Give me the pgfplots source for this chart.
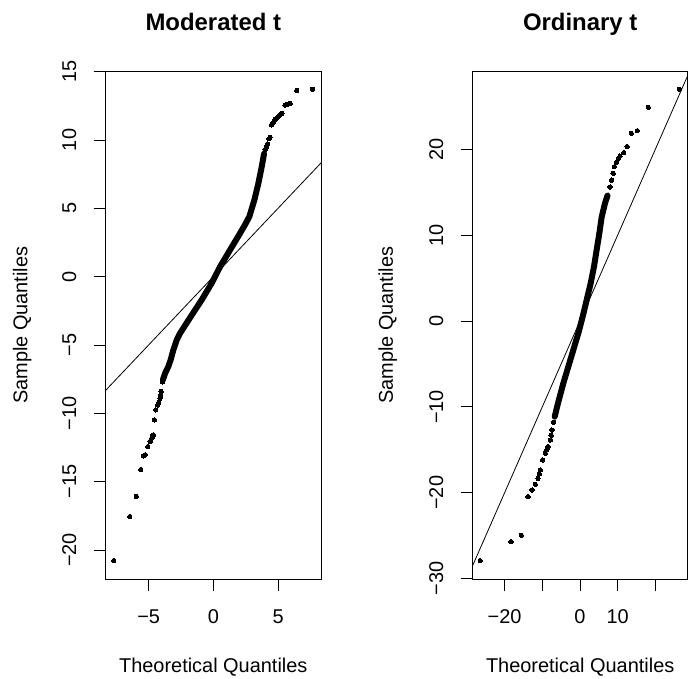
\documentclass[border=0pt]{standalone}
\usepackage{pgfplots}
\pgfplotsset{compat=1.18}
\usepackage{fontspec}
\setmainfont{Liberation Sans}
\begin{document}
\begin{tikzpicture}
\path[use as bounding box] (0bp,0bp) rectangle (689bp,679bp);
\pgfplotsset{rstyle/.style={scale only axis, height=508.3bp, anchor=south west,
  axis line style={line width=0.8bp}, tick style={line width=0.8bp, black},
  major tick length=12bp, tick align=outside, xtick pos=lower, ytick pos=left,
  ticklabel style={font=\fontsize{20}{24}\selectfont},
  xticklabel style={anchor=base, yshift=-32bp},
  yticklabel style={xshift=-17.5bp, rotate=90, anchor=base},
  clip=true},
  band/.style={line width=6bp, line cap=round, line join=round, no marks, black},
  dots/.style={only marks, mark=*, mark size=2.2bp, mark options={draw=black, fill=black, line width=0pt}},
  refline/.style={line width=0.8bp, no marks, black}}
% Left panel
\begin{axis}[rstyle, at={(105.7bp,99.7bp)}, width=215.3bp,
  xmin=-8.32, xmax=8.32, ymin=-22.15, ymax=15.05,
  xtick={-5,0,5}, xticklabels={−5,0,5},
  ytick={-20,-15,-10,-5,0,5,10,15}, yticklabels={−20,−15,−10,−5,0,5,10,15}]
\addplot[refline] coordinates {(-30,-30) (30,30)};
\addplot[band] coordinates {(-3.90,-7.56) (-3.73,-7.07) (-3.48,-6.58) (-3.30,-6.09) (-3.09,-5.36) (-2.83,-4.63) (-2.57,-4.14) (-1.75,-2.93) (-0.90,-1.70) (-0.13,-0.48) (0.52,0.73) (1.29,1.95) (2.06,3.17) (2.45,3.80) (2.78,4.39) (3.17,5.61) (3.48,6.83) (3.74,8.05) (3.92,9.0)};
\addplot[dots] coordinates {(4.0,9.3) (4.1,9.5) (4.2,9.7) (4.3,10.1) (4.38,10.2) (4.5,11.1) (4.6,11.25) (4.77,11.5) (4.9,11.6) (5.02,11.7) (5.15,11.85) (5.29,11.95) (5.54,12.56) (5.67,12.6) (5.93,12.68) (6.44,13.62) (7.66,13.71)
 (-3.94,-7.7) (-4.04,-8.41) (-4.08,-8.7) (-4.12,-8.90) (-4.22,-9.2) (-4.30,-9.39) (-4.45,-9.75) (-4.56,-10.48) (-4.64,-11.58) (-4.70,-11.7) (-4.76,-11.82) (-4.89,-12.07) (-5.07,-12.44) (-5.28,-13.04) (-5.41,-13.12) (-5.61,-14.12) (-5.95,-16.09) (-6.46,-17.56) (-7.70,-20.78)};
\end{axis}
% Right panel
\begin{axis}[rstyle, at={(472.7bp,99.7bp)}, width=215bp,
  xmin=-28.46, xmax=28.57, ymin=-30.07, ymax=29.1,
  xtick={-20,-10,0,10,20}, xticklabels={−20,,0,10,},
  ytick={-30,-20,-10,0,10,20}, yticklabels={−30,−20,−10,0,10,20}]
\addplot[refline] coordinates {(-40,-40) (40,40)};
\addplot[band] coordinates {(-6.71,-11.14) (-5.84,-9.58) (-4.42,-7.25) (-3.1,-5.32) (-1.78,-3.38) (-0.44,-1.43) (0.71,0.5) (1.77,2.44) (2.83,4.39) (3.71,6.32) (4.42,8.27) (5.13,10.2) (5.75,12.1) (6.63,13.7) (7.3,14.6)};
\addplot[dots] coordinates {(-7.0,-11.8) (-7.43,-12.69) (-7.65,-13.3) (-7.87,-13.85) (-8.49,-14.63) (-8.8,-15.0) (-9.2,-15.4) (-9.89,-16.18) (-10.53,-17.35) (-10.8,-17.8) (-11.14,-18.31) (-11.86,-19.01) (-12.73,-19.67) (-13.79,-20.45) (-15.57,-24.95) (-18.3,-25.69) (-26.45,-27.9)
 (7.96,15.6) (8.4,16.4) (8.8,17.2) (9.1,17.96) (9.7,18.5) (10.16,18.9) (10.6,19.2) (11.6,19.6) (12.5,20.3) (13.6,21.85) (15.2,22.15) (18.12,24.88) (26.35,26.97)};
\end{axis}
% titles and axis labels
\node[anchor=base, font=\fontsize{24}{28}\selectfont\bfseries] at (213.3bp,648.3bp) {Moderated t};
\node[anchor=base, font=\fontsize{24}{28}\selectfont\bfseries] at (580.2bp,648.3bp) {Ordinary t};
\node[anchor=base, font=\fontsize{20}{24}\selectfont] at (213.3bp,6.3bp) {Theoretical Quantiles};
\node[anchor=base, font=\fontsize{20}{24}\selectfont] at (580.2bp,6.3bp) {Theoretical Quantiles};
\node[anchor=center, rotate=90, font=\fontsize{20}{24}\selectfont] at (22.3bp,353.8bp) {Sample Quantiles};
\node[anchor=center, rotate=90, font=\fontsize{20}{24}\selectfont] at (387.7bp,353.8bp) {Sample Quantiles};
\end{tikzpicture}
\end{document}
